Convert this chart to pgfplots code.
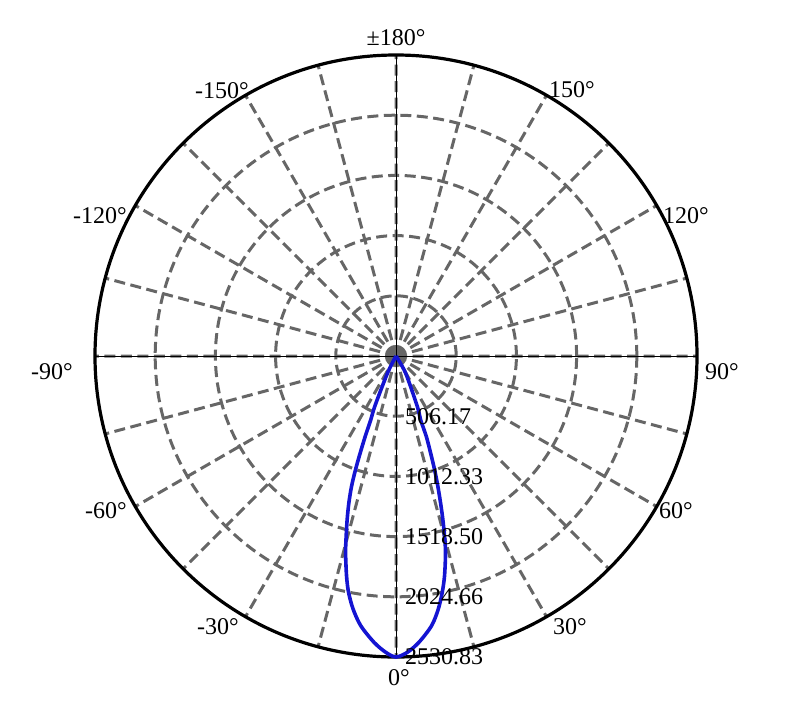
\documentclass[border=0pt]{standalone}
\usepackage{fontspec}
\setmainfont{Liberation Serif}
\usepackage{pgfplots}
\pgfplotsset{compat=1.18}
\usepgfplotslibrary{polar}
\definecolor{gridgray}{RGB}{102,102,102}
\definecolor{curveblue}{RGB}{20,20,210}

\begin{document}
\begin{tikzpicture}[font=\fontsize{12}{14}\selectfont]
\begin{polaraxis}[
    width=301pt, height=301pt, scale only axis,
    xmin=0, xmax=360,
    ymin=0, ymax=2530.83,
    xtick={0,30,...,330},
    minor xtick={15,45,...,345},
    ytick={506.17,1012.33,1518.50,2024.66},
    xticklabel=\empty, yticklabel=\empty,
    grid=both,
    major grid style={gridgray, line width=1.5pt, dash pattern=on 5.5pt off 2.75pt},
    minor grid style={gridgray, line width=1.5pt, dash pattern=on 5.5pt off 2.75pt},
    major tick length=0pt, minor tick length=0pt,
    axis line style={black, line width=1.6pt},
    y axis line style={draw=none},
    extra x ticks={0,90,180,270},
    extra x tick labels={},
    extra x tick style={grid=major, major grid style={black, line width=0.5pt, solid}},
    clip=false,
]
% angle = display angle + 270 (0 deg at bottom, 90 deg at right)
\addplot[curveblue, line width=1.8pt, smooth] coordinates {
    (238,0)
    (243.57,162)
    (247.1,455)
    (248.4,574)
    (249.05,725)
    (249.75,872)
    (250.4,1016)
    (251.16,1157)
    (252.20,1296)
    (253.36,1434)
    (254.53,1571)
    (255.62,1707)
    (257.33,1896)
    (258.66,2028)
    (260.39,2159)
    (262.57,2288)
    (265.62,2415)
    (268.02,2493)
    (270,2530.83)
    (272.20,2493)
    (274.58,2415)
    (277.51,2288)
    (279.48,2158)
    (281.06,2026)
    (282.44,1894)
    (284.14,1705)
    (285.08,1568)
    (285.99,1430)
    (286.88,1290)
    (287.81,1150)
    (288.75,1009)
    (289.63,866)
    (290.64,723)
    (291.10,575)
    (292.88,461)
    (299.28,166)
    (302,0)
};
\coordinate (c) at (axis cs:0,0);
% radial value labels along the 0 deg line
\node[anchor=west, xshift=1pt] at (axis cs:270,506.17) {506.17};
\node[anchor=west, xshift=1pt] at (axis cs:270,1012.33) {1012.33};
\node[anchor=west, xshift=1pt] at (axis cs:270,1518.50) {1518.50};
\node[anchor=west, xshift=1pt] at (axis cs:270,2024.66) {2024.66};
\node[anchor=west, xshift=1pt] at (axis cs:270,2530.83) {2530.83};
% angle labels
\node[xshift=0pt, yshift=8.5pt] at (axis cs:90,2530.83) {±180°};
\node[xshift=12.75pt, yshift=2.65pt] at (axis cs:60,2530.83) {150°};
\node[xshift=14.65pt, yshift=-5.25pt] at (axis cs:30,2530.83) {120°};
\node[xshift=12.5pt, yshift=-8pt] at (axis cs:0,2530.83) {90°};
\node[xshift=9.65pt, yshift=-2.25pt] at (axis cs:330,2530.83) {60°};
\node[xshift=11.75pt, yshift=-5.15pt] at (axis cs:300,2530.83) {30°};
\node[xshift=1.5pt, yshift=-10.5pt] at (axis cs:270,2530.83) {0°};
\node[xshift=-13.75pt, yshift=-5.15pt] at (axis cs:240,2530.83) {-30°};
\node[xshift=-14.65pt, yshift=-2.25pt] at (axis cs:210,2530.83) {-60°};
\node[xshift=-21.5pt, yshift=-8pt] at (axis cs:180,2530.83) {-90°};
\node[xshift=-17.65pt, yshift=-5.25pt] at (axis cs:150,2530.83) {-120°};
\node[xshift=-11.75pt, yshift=2.15pt] at (axis cs:120,2530.83) {-150°};
\end{polaraxis}
\pgfresetboundingbox
\path (c) ++(-198pt,-176pt) rectangle ++(395pt,354pt);
\end{tikzpicture}
\end{document}
